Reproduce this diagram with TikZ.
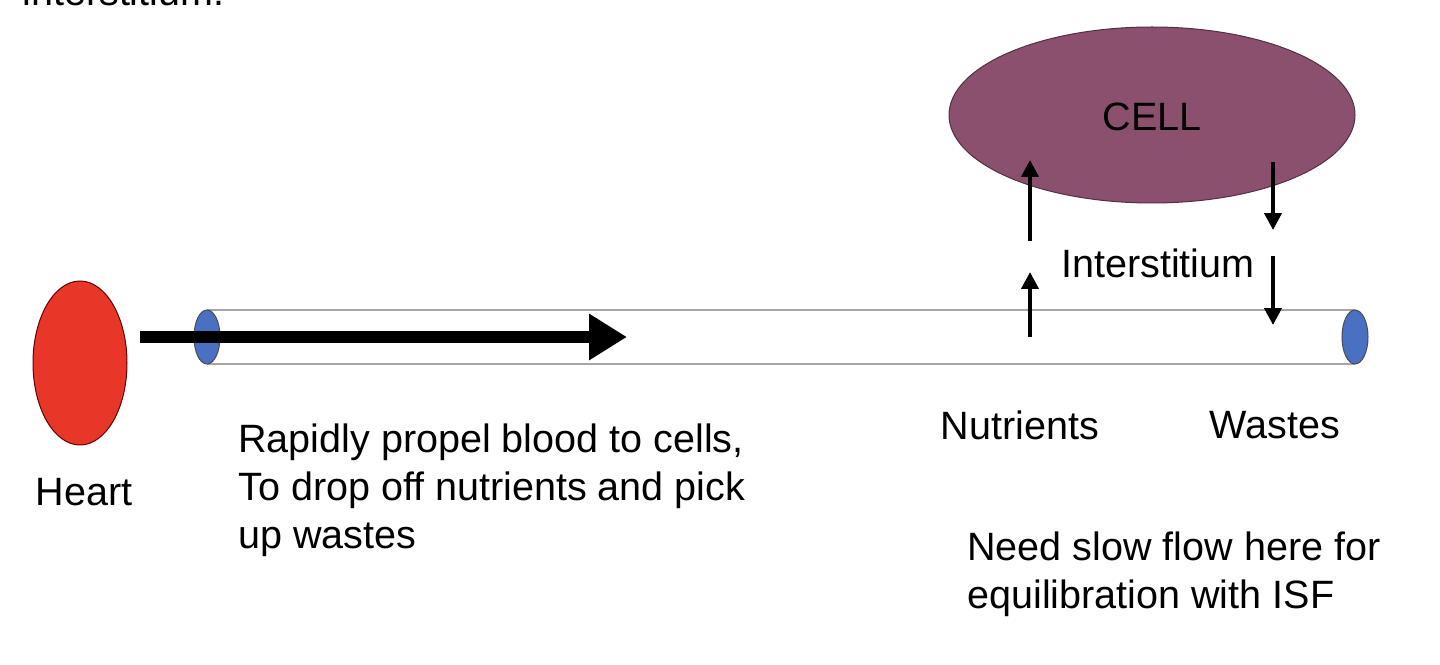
\documentclass[tikz,border=0pt]{standalone}
\usepackage{fontspec}
\setmainfont{Liberation Sans}
\usetikzlibrary{arrows.meta}
\definecolor{heartred}{RGB}{232,54,40}
\definecolor{cellpurple}{RGB}{139,80,110}
\definecolor{capblue}{RGB}{74,112,196}
\begin{document}
\begin{tikzpicture}[x=0.02cm,y=-0.02cm,
  every node/.style={font=\fontsize{22.5}{27.3}\selectfont},
  label/.style={inner sep=0pt},
  tubeline/.style={draw=gray!70,line width=0.05cm},
  endcap/.style={fill=capblue,draw=gray!60!black,line width=0.02cm},
  flow/.style={line width=0.24cm,-{Triangle[length=0.76cm,width=0.88cm]}},
  exchange/.style={line width=0.08cm,-{Triangle[length=0.34cm,width=0.34cm]}}]
\useasboundingbox (0,0) rectangle (1440,665);
% cut-off text at the top
\node[label,anchor=base west] (top) at (22,6) {interstitium.};
% heart
\draw[fill=heartred,draw=red!40!black,line width=0.02cm] (80,363) ellipse [x radius=47,y radius=82];
\node[label] (heart) at (84,492) {Heart};
% vessel
\fill[white] (207,310) rectangle (1355,364);
\draw[tubeline] (207,310) -- (1355,310);
\draw[tubeline] (207,364) -- (1355,364);
\draw[endcap] (207,337) ellipse [x radius=13,y radius=27];
\draw[endcap] (1355,337) ellipse [x radius=13,y radius=27];
\coordinate (f0) at (140,337);
\coordinate (f1) at (627,337);
\draw[flow] (f0) -- (f1);
% cell
\draw[fill=cellpurple,draw=cellpurple!60!black,line width=0.02cm] (1152,115) ellipse [x radius=203,y radius=88];
\node[label] (cell) at (1152,117) {CELL};
% exchange through interstitium
\node[label] (isf) at (1158,263) {Interstitium};
\coordinate (n0) at (1030,337);
\coordinate (n1) at (1030,272);
\coordinate (n2) at (1030,241);
\coordinate (n3) at (1030,160);
\coordinate (w0) at (1273,162);
\coordinate (w1) at (1273,230);
\coordinate (w2) at (1273,256);
\coordinate (w3) at (1273,325);
\draw[exchange] (n0) -- (n1);
\draw[exchange] (n2) -- (n3);
\draw[exchange] (w0) -- (w1);
\draw[exchange] (w2) -- (w3);
\node[label] (nutr) at (1020,425) {Nutrients};
\node[label] (wast) at (1275,425) {Wastes};
% notes
\node[label,anchor=north west,align=left] (fast) at (238,424)
  {Rapidly propel blood to cells,\\To drop off nutrients and pick\\up wastes};
\node[label,anchor=north west,align=left] (slow) at (967,532)
  {Need slow flow here for\\equilibration with ISF};
\end{tikzpicture}
\end{document}
